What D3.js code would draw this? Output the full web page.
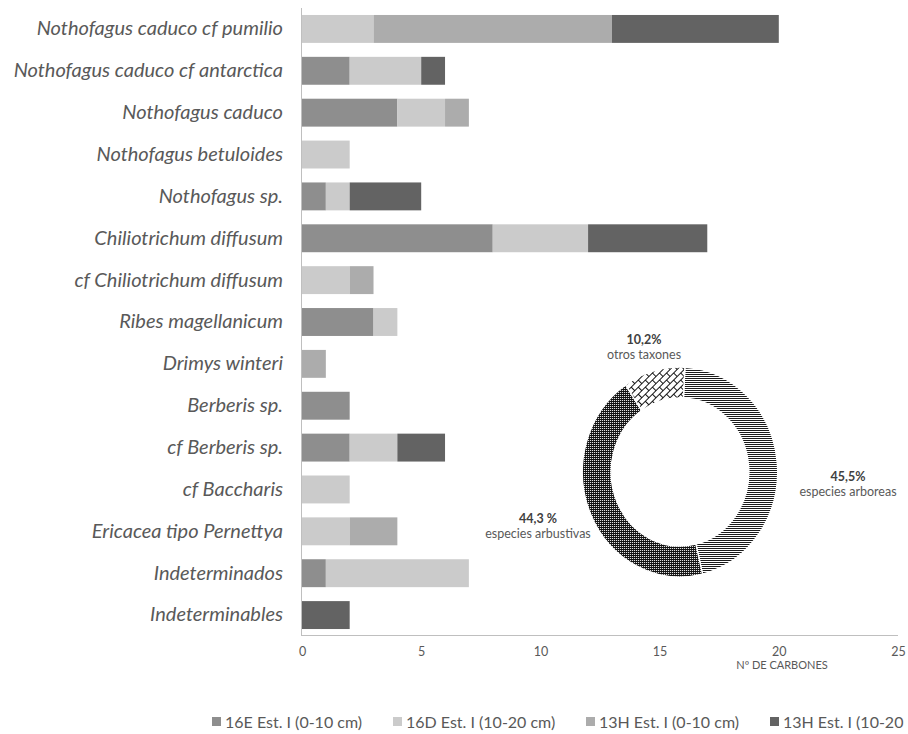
<!DOCTYPE html>
<html>
<head>
<meta charset="utf-8">
<script src="https://cdn.jsdelivr.net/npm/d3@7"></script>
<style>
  html, body { margin: 0; padding: 0; background: #fff; }
  svg { display: block; overflow: hidden; }
</style>
</head>
<body>
<svg id="chart" width="908" height="734"></svg>
<script>
// ---------- data ----------
const categories = [
  "Nothofagus caduco cf pumilio",
  "Nothofagus caduco cf antarctica",
  "Nothofagus caduco",
  "Nothofagus betuloides",
  "Nothofagus sp.",
  "Chiliotrichum diffusum",
  "cf Chiliotrichum diffusum",
  "Ribes magellanicum",
  "Drimys winteri",
  "Berberis sp.",
  "cf Berberis sp.",
  "cf Baccharis",
  "Ericacea tipo Pernettya",
  "Indeterminados",
  "Indeterminables"
];
const seriesNames = ["16E Est. I (0-10 cm)", "16D Est. I (10-20 cm)", "13H Est. I (0-10 cm)", "13H Est. I (10-20 cm)"];
// legend texts as visible in the reference (last one is cut at the edge there)
const legendLabels = ["16E Est. I (0-10 cm)", "16D Est. I (10-20 cm)", "13H Est. I (0-10 cm)", "13H Est. I (10-20"];
const s16E   = [0, 2, 4, 0, 1, 8, 0, 3, 0, 2, 2, 0, 0, 1, 0];
const s16D   = [3, 3, 2, 2, 1, 4, 2, 1, 0, 0, 2, 2, 2, 6, 0];
const s13H0  = [10, 0, 1, 0, 0, 0, 1, 0, 1, 0, 0, 0, 2, 0, 0];
const s13H10 = [7, 1, 0, 0, 3, 5, 0, 0, 0, 0, 2, 0, 0, 0, 2];
const xTicks = [0, 5, 10, 15, 20, 25];
const xTitle = "Nº DE CARBONES";

const donutNames  = ["especies arboreas", "especies arbustivas", "otros taxones"];
const donutValues = [45.5, 44.3, 10.2];
const donutPct    = ["45,5%", "44,3 %", "10,2%"];

// ---------- styles ----------
const seriesColors = ["#8e8e8e", "#cbcbcb", "#acacac", "#636363"];
const textColor = "#595959";
const axisColor = "#bfbfbf";
const font = "Lato, 'Open Sans', sans-serif";

const svg = d3.select("#chart");

// ---------- bar chart ----------
const rows = categories.map((c, i) => ({
  cat: c,
  [seriesNames[0]]: s16E[i],
  [seriesNames[1]]: s16D[i],
  [seriesNames[2]]: s13H0[i],
  [seriesNames[3]]: s13H10[i]
}));
const stack = d3.stack().keys(seriesNames)(rows);

const x = d3.scaleLinear().domain([0, 25]).range([302, 898]);
const y = d3.scaleBand().domain(categories).range([8, 636])
  .paddingInner(1/3).paddingOuter(1/6);

svg.append("g").selectAll("g")
  .data(stack).join("g")
  .attr("fill", (d, i) => seriesColors[i])
  .selectAll("rect")
  .data(d => d).join("rect")
  .attr("x", d => x(d[0]))
  .attr("y", d => y(d.data.cat))
  .attr("width", d => Math.max(0, x(d[1]) - x(d[0])))
  .attr("height", y.bandwidth());

// axes lines
svg.append("line").attr("x1", 301.5).attr("x2", 301.5).attr("y1", 8).attr("y2", 636)
  .attr("stroke", axisColor).attr("stroke-width", 1);
svg.append("line").attr("x1", 301).attr("x2", 898).attr("y1", 635.5).attr("y2", 635.5)
  .attr("stroke", axisColor).attr("stroke-width", 1);

// x tick labels
const xAxis = d3.axisBottom(x).tickValues(xTicks).tickSize(0).tickPadding(0);
const gx = svg.append("g").attr("transform", "translate(0,647)").call(xAxis);
gx.select(".domain").remove();
gx.selectAll("text")
  .attr("fill", textColor)
  .attr("font-family", font)
  .attr("font-size", 12.5);

svg.append("text")
  .attr("x", 782).attr("y", 669)
  .attr("text-anchor", "middle")
  .attr("fill", textColor)
  .attr("font-family", font)
  .attr("font-size", 11)
  .text(xTitle);

// category labels
const yAxis = d3.axisLeft(y).tickSize(0).tickPadding(0);
const gy = svg.append("g").attr("transform", "translate(283,0)").call(yAxis);
gy.select(".domain").remove();
gy.selectAll("text")
  .attr("fill", textColor)
  .attr("font-family", font)
  .attr("font-style", "italic")
  .attr("font-size", 20);

// ---------- legend ----------
const legendX = [212, 393, 586, 770];
const leg = svg.append("g").selectAll("g")
  .data(legendLabels).join("g")
  .attr("transform", (d, i) => `translate(${legendX[i]},722)`);
leg.append("rect").attr("x", 0).attr("y", -5).attr("width", 9).attr("height", 9)
  .attr("fill", (d, i) => seriesColors[i]);
leg.append("text").attr("x", 13).attr("y", 0).attr("dy", "0.35em")
  .attr("fill", textColor)
  .attr("font-family", font)
  .attr("font-size", 16)
  .text(d => d);

// ---------- donut ----------
const sx = 0.93;
const defs = svg.append("defs");
// horizontal lines pattern (arboreas)
const p1 = defs.append("pattern").attr("id", "pLines").attr("patternUnits", "userSpaceOnUse")
  .attr("width", 4).attr("height", 2).attr("patternTransform", `scale(${1/sx},1)`);
p1.append("rect").attr("width", 4).attr("height", 2).attr("fill", "#ffffff");
p1.append("rect").attr("width", 4).attr("height", 1).attr("fill", "#1a1a1a");
// dotted dark pattern (arbustivas)
const p2 = defs.append("pattern").attr("id", "pDots").attr("patternUnits", "userSpaceOnUse")
  .attr("width", 2).attr("height", 2).attr("patternTransform", `scale(${1/sx},1)`);
p2.append("rect").attr("width", 2).attr("height", 2).attr("fill", "#111111");
p2.append("rect").attr("width", 1).attr("height", 1).attr("fill", "#ffffff");
// diagonal brick (otros)
const p3 = defs.append("pattern").attr("id", "pBrick").attr("patternUnits", "userSpaceOnUse")
  .attr("width", 10).attr("height", 10).attr("patternTransform", `scale(${1/sx},1) rotate(-45)`);
p3.append("rect").attr("width", 10).attr("height", 10).attr("fill", "#ffffff");
p3.append("path")
  .attr("d", "M0,0.5H10M0,5.5H10M0.5,0V5M5.5,5V10")
  .attr("stroke", "#111").attr("stroke-width", 1).attr("fill", "none");

const fills = ["url(#pLines)", "url(#pDots)", "url(#pBrick)"];
const cx = 680, cy = 472;
const pie = d3.pie().sort(null).startAngle(0.05).endAngle(0.05 + 2 * Math.PI)(donutValues);
const arc = d3.arc().innerRadius(74).outerRadius(105);
const dg = svg.append("g").attr("transform", `translate(${cx},${cy}) scale(${sx},1)`);
dg.selectAll("path").data(pie).join("path")
  .attr("d", arc)
  .attr("fill", (d, i) => fills[i])
  .attr("stroke", "#ffffff").attr("stroke-width", 1.5);

// donut labels
const dLabelPos = [[848, 477], [538, 519], [644, 340]];
const dl = svg.append("g").selectAll("g").data(donutNames).join("g")
  .attr("transform", (d, i) => `translate(${dLabelPos[i][0]},${dLabelPos[i][1]})`);
dl.append("text").attr("text-anchor", "middle").attr("dy", "0.35em")
  .attr("fill", "#404040").attr("font-weight", "bold")
  .attr("font-family", font).attr("font-size", 12.5)
  .text((d, i) => donutPct[i]);
dl.append("text").attr("text-anchor", "middle").attr("y", 15).attr("dy", "0.35em")
  .attr("fill", textColor)
  .attr("font-family", font).attr("font-size", 12.5)
  .text(d => d);
</script>
</body>
</html>
